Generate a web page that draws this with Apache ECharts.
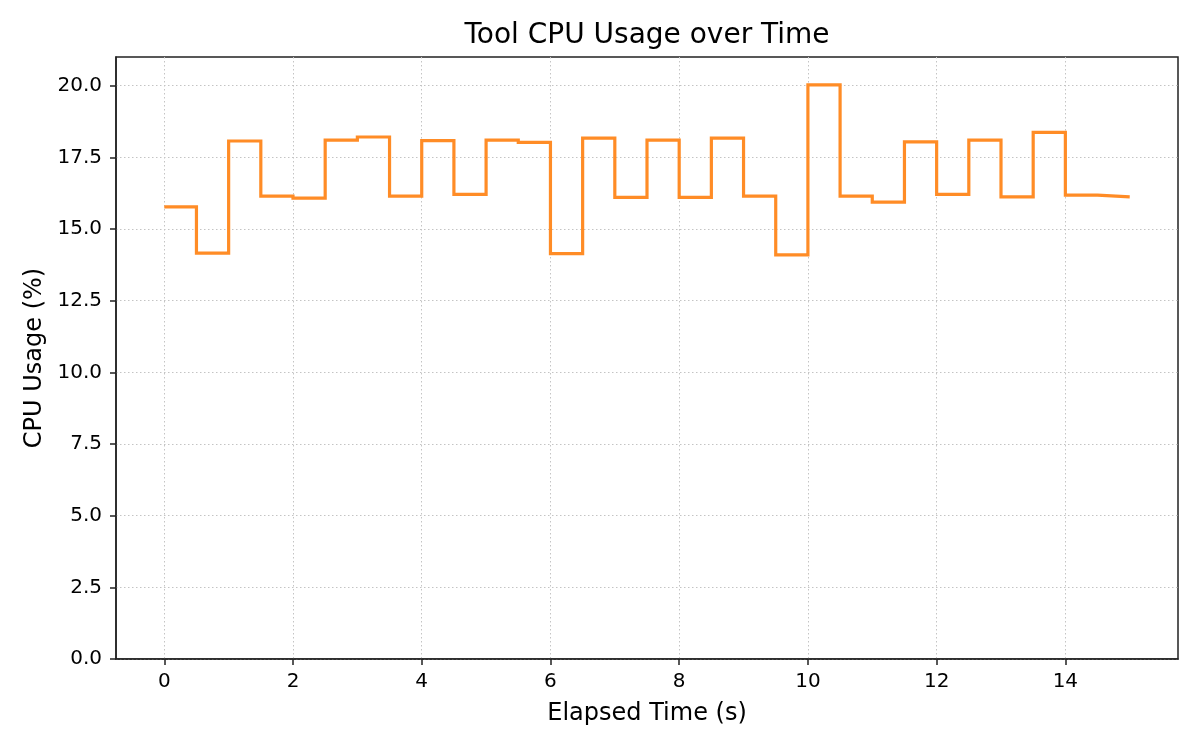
<!DOCTYPE html>
<html lang="en">
  <head>
    <meta charset="UTF-8" />
    <title>Tool CPU Usage over Time</title>
    <script src="https://cdn.jsdelivr.net/npm/echarts@6/dist/echarts.min.js"></script>
    <style>
      html, body { margin: 0; padding: 0; background: #fff; }
      #main { width: 1200px; height: 750px; }
    </style>
  </head>
  <body>
    <div id="main"></div>
    <script>
      // elapsed time (s), one sample every 0.5 s
      var times = [0, 0.5, 1, 1.5, 2, 2.5, 3, 3.5, 4, 4.5, 5, 5.5, 6, 6.5, 7, 7.5,
                   8, 8.5, 9, 9.5, 10, 10.5, 11, 11.5, 12, 12.5, 13, 13.5, 14, 14.5, 15];
      // cpu usage (%)
      var cpuUsage = [15.77, 14.16, 18.07, 16.15, 16.08, 18.10, 18.21, 16.15, 18.08, 16.21,
                      18.10, 18.02, 14.14, 18.17, 16.10, 18.10, 16.10, 18.17, 16.15, 14.10,
                      20.03, 16.15, 15.94, 18.04, 16.21, 18.10, 16.12, 18.37, 16.18, 16.12, 16.12];
      var xTicks = [0, 2, 4, 6, 8, 10, 12, 14];
      var yTicks = [0, 2.5, 5, 7.5, 10, 12.5, 15, 17.5, 20];

      var seriesData = times.map(function (t, i) { return [t, cpuUsage[i]]; });

      var font = 'DejaVu Sans';
      var gridLine = { show: true, lineStyle: { color: '#c4c4c4', width: 1, type: [1.5, 2.5] } };

      var myChart = echarts.init(document.getElementById('main'), null, { renderer: 'canvas' });
      var option = {
        backgroundColor: '#ffffff',
        animation: false,
        graphic: [{
          type: 'text',
          x: 647,
          y: 36,
          style: {
            text: 'Tool CPU Usage over Time',
            fontFamily: font,
            fontSize: 28,
            fill: '#000',
            textAlign: 'center',
            textVerticalAlign: 'middle'
          }
        }],
        grid: {
          left: 116, right: 22, top: 57, bottom: 91,
          show: true, borderColor: '#222', borderWidth: 1.5,
          containLabel: false
        },
        xAxis: {
          type: 'value',
          min: -0.75,
          max: 15.75,
          name: 'Elapsed Time (s)',
          nameLocation: 'middle',
          nameGap: 43,
          nameTextStyle: { fontFamily: font, fontSize: 24, color: '#000' },
          axisLine: { show: true, onZero: false, lineStyle: { color: '#222', width: 1.5 } },
          axisTick: { show: true, length: 6, customValues: xTicks, lineStyle: { color: '#222', width: 1.5 } },
          axisLabel: { customValues: xTicks, fontFamily: font, fontSize: 20, color: '#000', margin: 13 },
          splitLine: gridLine
        },
        yAxis: {
          type: 'value',
          min: 0,
          max: 21,
          name: 'CPU Usage (%)',
          nameLocation: 'middle',
          nameGap: 68,
          nameTextStyle: { fontFamily: font, fontSize: 24, color: '#000' },
          axisLine: { show: true, onZero: false, lineStyle: { color: '#222', width: 1.5 } },
          axisTick: { show: true, length: 6, customValues: yTicks, lineStyle: { color: '#222', width: 1.5 } },
          axisLabel: {
            customValues: yTicks, fontFamily: font, fontSize: 20, color: '#000', margin: 14,
            formatter: function (v) { return v.toFixed(1); }
          },
          splitLine: gridLine
        },
        series: [{
          type: 'line',
          step: 'end',
          symbol: 'none',
          lineStyle: { color: '#ff8c26', width: 3.2, join: 'miter' },
          data: seriesData
        }]
      };
      myChart.setOption(option);
    </script>
  </body>
</html>
